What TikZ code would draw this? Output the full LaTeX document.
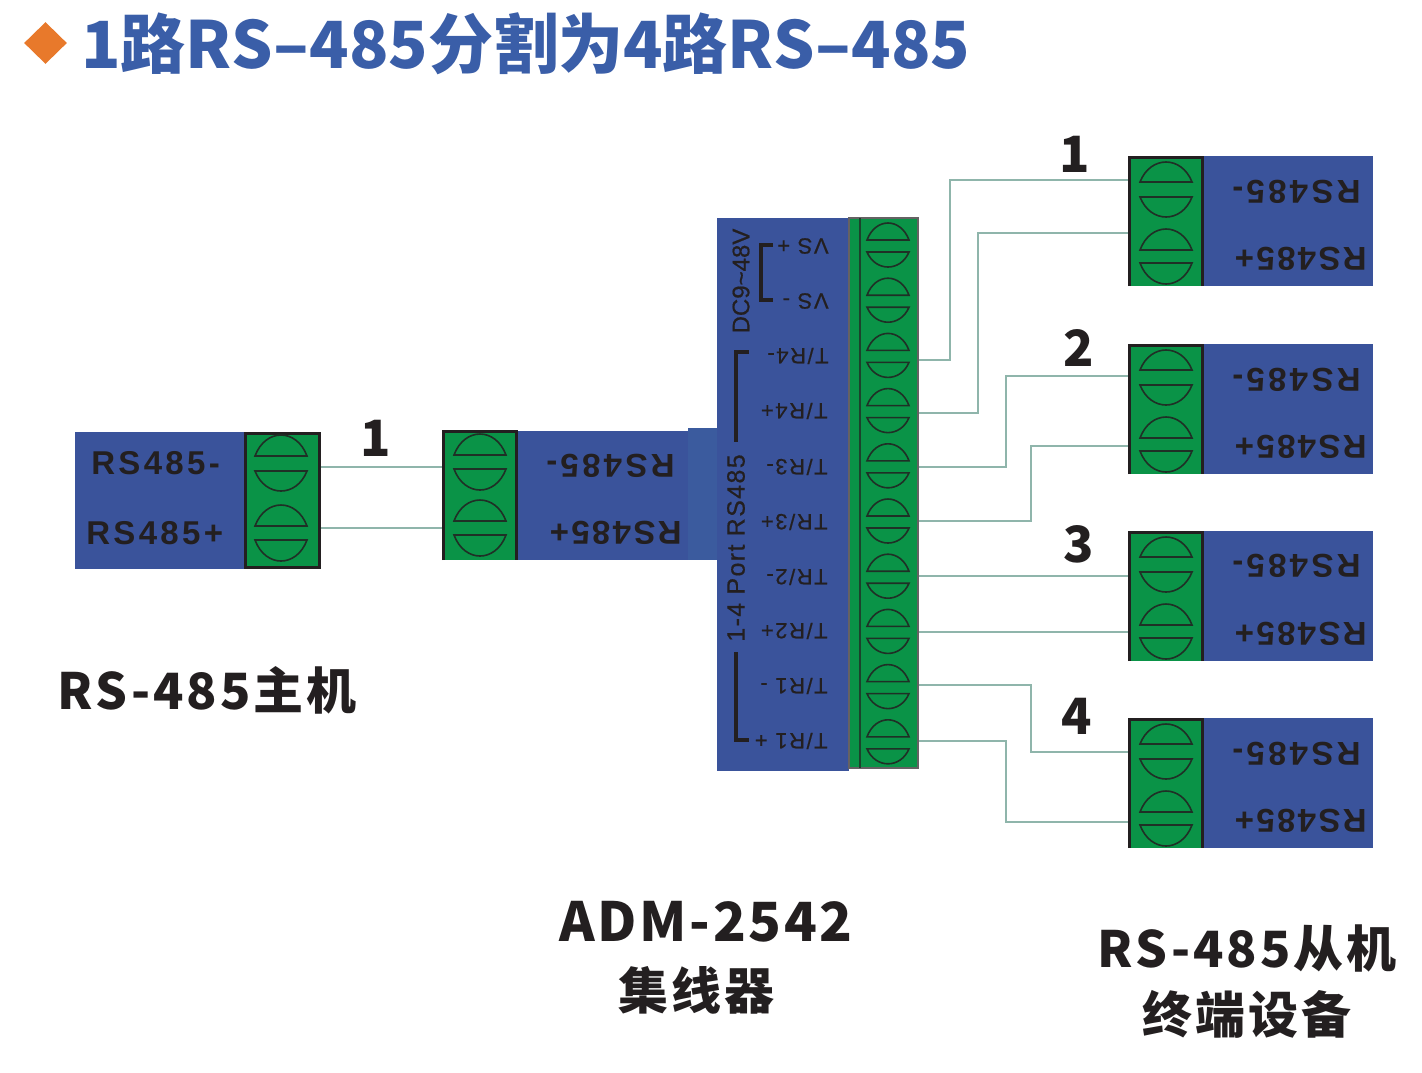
\documentclass[tikz,border=0pt]{standalone}
\usepackage{fontspec}
\setmainfont{Liberation Sans}
\newfontfamily\cjk{Noto Sans CJK SC}
\newfontfamily\sparse[LetterSpace=10]{Liberation Sans}
\newfontfamily\sparseless[LetterSpace=7]{Liberation Sans}
\newfontfamily\semibold[FakeBold=0.6]{Liberation Sans}
\newfontfamily\semiboldsp[FakeBold=0.6,LetterSpace=7]{Liberation Sans}
\newfontfamily\sidesp[FakeBold=0.5,LetterSpace=5.5]{Liberation Sans}
\newfontfamily\cjksparse[LetterSpace=6]{Noto Sans CJK SC}
\newfontfamily\cjkwide[LetterSpace=5]{Noto Sans CJK SC}
\usetikzlibrary{shapes.geometric}
\definecolor{mblue}{HTML}{3A539B}
\definecolor{jblue}{HTML}{3B5B9E}
\definecolor{mgreen}{HTML}{0A9347}
\definecolor{wirec}{HTML}{8FB5AB}
\definecolor{ink}{HTML}{231F20}
\definecolor{titleblue}{HTML}{3A5EA8}
\definecolor{dia}{HTML}{E8792B}
\tikzset{
  bluebox/.style={fill=mblue,draw=none,inner sep=0pt,outer sep=0pt},
  greenbox/.style={fill=mgreen,draw=none,inner sep=0pt,outer sep=0pt},
  wire/.style={draw=wirec,line width=1.1pt},
  dome/.style={draw=ink!85!mgreen,line width=0.8pt},
  modtext/.style={font=\sparse\bfseries\fontsize{16.5}{18}\selectfont,text=ink,inner sep=0pt},
  modplus/.style={font=\sparseless\bfseries\fontsize{16.5}{18}\selectfont,text=ink,inner sep=0pt},
  smalltext/.style={font=\semiboldsp\fontsize{11}{12}\selectfont,text=ink,inner sep=0pt,rotate=180,anchor=west},
  sidetext/.style={text=ink,inner sep=0pt,rotate=90},
  bracketline/.style={draw=ink,line width=1.7pt},
  caption/.style={font=\cjksparse\bfseries\fontsize{25}{30}\selectfont,text=ink,inner sep=0pt},
  numtext/.style={font=\cjk\bfseries\fontsize{25}{30}\selectfont,text=ink,inner sep=0pt},
}
% cx, half width, top of dome, flat of dome, flat of bowl, bottom of bowl
\newcommand{\screwpair}[6]{%
  \draw[dome] ({#1-#2},{#4}) .. controls ({#1-0.6*#2},{(#4)+((#3)-(#4))*4/3}) and ({#1+0.6*#2},{(#4)+((#3)-(#4))*4/3}) .. ({#1+#2},{#4}) -- cycle;
  \draw[dome] ({#1-#2},{#5}) .. controls ({#1-0.6*#2},{(#5)+((#6)-(#5))*4/3}) and ({#1+0.6*#2},{(#5)+((#6)-(#5))*4/3}) .. ({#1+#2},{#5}) -- cycle;
}
% name, top y, y of label 1, y of label 2
\newcommand{\slavemodule}[4]{%
  \node[bluebox,minimum width=85pt,minimum height=65pt] (#1blue) at (1287.5,{#2+65}) {};
  \node[greenbox,minimum width=37.5pt,minimum height=65pt] (#1green) at (1165.5,{#2+65}) {};
  \draw[line width=1.5pt,draw=ink] (1129,{#2+130}) -- (1129,{#2+1}) -- (1202,{#2+1}) -- (1202,{#2+130});
  \screwpair{1166}{26}{#2+6}{#2+26}{#2+41}{#2+61}
  \screwpair{1166}{26}{#2+73}{#2+94}{#2+107}{#2+128}
  \node[modtext,rotate=180,anchor=west] (#1minus) at (1361,#3) {RS485-};
  \node[modplus,rotate=180,anchor=west] (#1plus) at (1367,#4) {RS485+};
}
\begin{document}
\begin{tikzpicture}[x=0.5pt,y=-0.5pt]
\useasboundingbox (0,0) rectangle (1422,1072);
% title
\node[diamond,fill=dia,minimum width=21.5pt,minimum height=21pt,inner sep=0pt] (mark) at (45.5,43) {};
\node[anchor=west,inner sep=0pt,text=titleblue,font=\cjk\bfseries\fontsize{32.5}{36}\selectfont] (title) at (81,44) {1路RS–485分割为4路RS–485};
% coordinates of the wire ends
\coordinate (m1) at (320,467); \coordinate (m2) at (320,528);
\coordinate (r1) at (443,467); \coordinate (r2) at (443,528);
\coordinate (h1) at (918,360); \coordinate (h2) at (918,413);
\coordinate (h3) at (918,467); \coordinate (h4) at (918,521);
\coordinate (h5) at (918,576); \coordinate (h6) at (918,632);
\coordinate (h7) at (918,685); \coordinate (h8) at (918,741);
\coordinate (s1a) at (1128,180); \coordinate (s1b) at (1128,233);
\coordinate (s2a) at (1128,376); \coordinate (s2b) at (1128,446);
\coordinate (s3a) at (1128,576); \coordinate (s3b) at (1128,632);
\coordinate (s4a) at (1128,752); \coordinate (s4b) at (1128,822);
% wires
\draw[wire] (m1) -- (r1);
\draw[wire] (m2) -- (r2);
\draw[wire] (h1) -- ++(32,0) |- (s1a);
\draw[wire] (h2) -- ++(60,0) |- (s1b);
\draw[wire] (h3) -- ++(88,0) |- (s2a);
\draw[wire] (h4) -- ++(113,0) |- (s2b);
\draw[wire] (h5) -- (s3a);
\draw[wire] (h6) -- (s3b);
\draw[wire] (h7) -- ++(113,0) |- (s4a);
\draw[wire] (h8) -- ++(88,0) |- (s4b);
% master
\node[bluebox,minimum width=85pt,minimum height=68.5pt] (mblue) at (160,500) {};
\node[greenbox,draw=ink,line width=1.5pt,minimum width=37pt,minimum height=67pt] (mgreen) at (282,500) {};
\screwpair{281}{26}{435}{456}{471}{491}
\screwpair{281}{26}{505}{526}{540}{561}
\node[modtext,anchor=west] (mminus) at (91,463) {RS485-};
\node[modtext,anchor=west] (mplus) at (86,533) {RS485+};
\node[caption,anchor=center] (mcap) at (207,690) {RS-485主机};
% repeater
\node[fill=jblue,inner sep=0pt,minimum width=15pt,minimum height=66pt] (join) at (702.5,494) {};
\node[bluebox,minimum width=85.5pt,minimum height=64.5pt] (rblue) at (602.5,495.5) {};
\node[greenbox,minimum width=37pt,minimum height=64.5pt] (rgreen) at (480,495.5) {};
\draw[line width=1.5pt,draw=ink] (443.5,560) -- (443.5,431.5) -- (516,431.5) -- (516,560);
\screwpair{480}{26}{434}{455}{469}{490}
\screwpair{480}{26}{500}{521}{535}{556}
\node[modtext,rotate=180,anchor=west] (rminus) at (675,466) {RS485-};
\node[modplus,rotate=180,anchor=west] (rplus) at (682,533) {RS485+};
% hub
\node[bluebox,minimum width=66pt,minimum height=276.5pt] (hblue) at (783,494.5) {};
\node[greenbox,draw=ink!70,line width=0.6pt,minimum width=34.5pt,minimum height=275pt] (hgreen) at (883.5,493) {};
\draw[draw=ink!70!mgreen,line width=0.6pt] (860,218) -- (860,768);
\foreach \n in {0,...,9}{
  \screwpair{888}{21}{223+55.2*\n}{240+55.2*\n}{252+55.2*\n}{267+55.2*\n}
}
\node[smalltext] (l1) at (829,246) {VS +};
\node[smalltext] (l2) at (829,301) {VS -};
\node[smalltext] (l3) at (829,356) {T/R4-};
\node[smalltext] (l4) at (828,411) {T/R4+};
\node[smalltext] (l5) at (828,467) {T/R3-};
\node[smalltext] (l6) at (828,522) {TR/3+};
\node[smalltext] (l7) at (828,577) {TR/2-};
\node[smalltext] (l8) at (828,631) {T/R2+};
\node[smalltext] (l9) at (828,686) {T/R1 -};
\node[smalltext] (l10) at (828,741) {T/R1 +};
\node[sidetext,font=\semibold\fontsize{12}{14}\selectfont] (dc) at (741,281) {DC9\textasciitilde48V};
\node[sidetext,font=\sidesp\fontsize{12.5}{14}\selectfont] (port) at (736,548) {1-4 Port RS485};
\draw[bracketline] (773,245) -- (761,245) -- (761,300) -- (773,300);
\draw[bracketline] (749,352) -- (736,352) -- (736,442);
\draw[bracketline] (736,652) -- (736,740) -- (749,740);
% slaves
\slavemodule{sa}{156}{192}{259}
\slavemodule{sb}{344}{380}{447}
\slavemodule{sc}{531}{566}{634}
\slavemodule{sd}{718}{754}{821}
% numbers
\node[numtext] (n0) at (376,438) {1};
\node[numtext] (n1) at (1075,154) {1};
\node[numtext] (n2) at (1079,348) {2};
\node[numtext] (n3) at (1079,544) {3};
\node[numtext] (n4) at (1077,716) {4};
% captions
\node[caption,font=\cjkwide\bfseries\fontsize{27}{30}\selectfont] (hcap1) at (706,922) {ADM-2542};
\node[caption] (hcap2) at (696,990) {集线器};
\node[caption] (scap1) at (1247,948) {RS-485从机};
\node[caption] (scap2) at (1247,1014) {终端设备};
\end{tikzpicture}
\end{document}
